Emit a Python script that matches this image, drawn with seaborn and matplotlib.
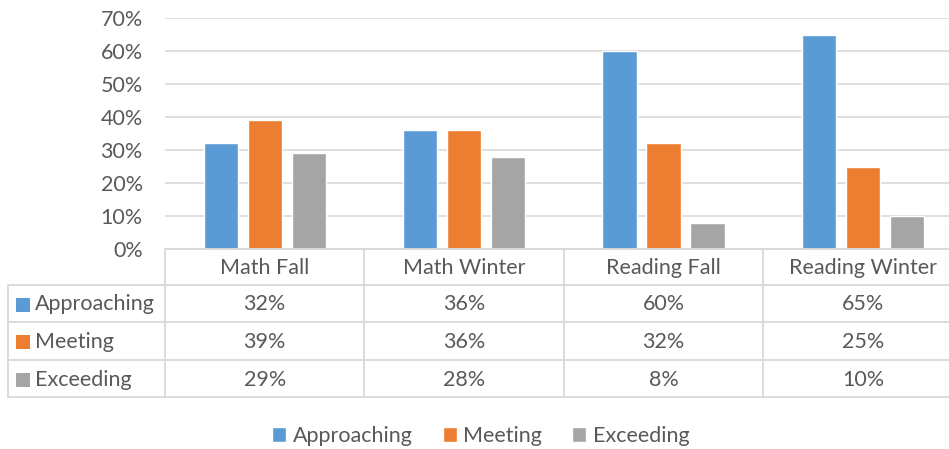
import pandas as pd
import matplotlib.pyplot as plt
import seaborn as sns
from matplotlib.lines import Line2D
from matplotlib.patches import Rectangle
from matplotlib.transforms import blended_transform_factory
from matplotlib.ticker import PercentFormatter

# --- Data ---
categories = ["Math Fall", "Math Winter", "Reading Fall", "Reading Winter"]
series = ["Approaching", "Meeting", "Exceeding"]
approaching = [32, 36, 60, 65]
meeting = [39, 36, 32, 25]
exceeding = [29, 28, 8, 10]
colors = ["#5B9BD5", "#ED7D31", "#A5A5A5"]

values = {"Approaching": approaching, "Meeting": meeting, "Exceeding": exceeding}
df = pd.DataFrame([
    {"category": c, "level": s, "pct": values[s][i]}
    for s in series for i, c in enumerate(categories)
])

TXT = "#595959"
GRID = "#D9D9D9"
FS = 15.5
W, H = 949, 449

sns.set_style("white")
plt.rcParams["font.family"] = ["Lato", "DejaVu Sans"]

fig = plt.figure(figsize=(W / 100, H / 100), dpi=100)

# plot area in pixels: x 165 -> 962 (clipped by figure), y 18 -> 249
ax = fig.add_axes([165 / W, (H - 249) / H, (962.6 - 165) / W, (249 - 18) / H])
sns.barplot(data=df, x="category", y="pct", hue="level", hue_order=series,
            order=categories, palette=colors, width=0.662, gap=0.227,
            saturation=1, ax=ax, legend=True)

ax.set_ylim(0, 70)
ax.set_xlim(-0.5, 3.5)
ax.set_yticks(range(0, 71, 10))
ax.yaxis.set_major_formatter(PercentFormatter(decimals=0))
ax.tick_params(axis="y", labelsize=FS, labelcolor=TXT, length=0, pad=16)
ax.set_xticks([])
ax.set_xlabel("")
ax.set_ylabel("")
ax.grid(axis="y", color=GRID, lw=1.2)
ax.set_axisbelow(True)
for sp in ax.spines.values():
    sp.set_visible(False)

# --- Data table below the plot ---
def fy(py):
    return (H - py) / H

tr = blended_transform_factory(ax.transData, fig.transFigure)
row_edges = [249, 285, 322, 360, 397]

# horizontal lines
for k, py in enumerate(row_edges):
    if k > 0:
        fig.add_artist(Line2D([8 / W, 165 / W], [fy(py)] * 2, color=GRID, lw=1.3))
    fig.add_artist(Line2D([-0.5, 3.5], [fy(py)] * 2, transform=tr, color=GRID, lw=1.3))

# vertical lines
fig.add_artist(Line2D([8 / W] * 2, [fy(285), fy(397)], color=GRID, lw=1.3))
for xb in [-0.5, 0.5, 1.5, 2.5]:
    fig.add_artist(Line2D([xb] * 2, [fy(249), fy(397)], transform=tr, color=GRID, lw=1.3))

# header row
for i, c in enumerate(categories):
    fig.text(i, fy(268), c, transform=tr, ha="center", va="center", fontsize=FS, color=TXT)

# series rows
for r, s in enumerate(series):
    yc = fy((row_edges[r + 1] + row_edges[r + 2]) / 2 + 1)
    fig.add_artist(Rectangle((16 / W, yc - 7 / H), 14 / W, 14 / H, color=colors[r], lw=0))
    fig.text(35 / W, yc, s, ha="left", va="center", fontsize=FS, color=TXT)
    for i, v in enumerate(values[s]):
        fig.text(i, yc, f"{v}%", transform=tr, ha="center", va="center", fontsize=FS, color=TXT)

# legend
handles, labels = ax.get_legend_handles_labels()
ax.legend_.remove()
fig.legend(handles, labels, loc="center", bbox_to_anchor=(481 / W, fy(436)), ncol=3,
           frameon=False, fontsize=FS, labelcolor=TXT, handlelength=0.65, handleheight=0.65,
           handletextpad=0.3, columnspacing=1.4)

fig.savefig("out.png", dpi=100)
